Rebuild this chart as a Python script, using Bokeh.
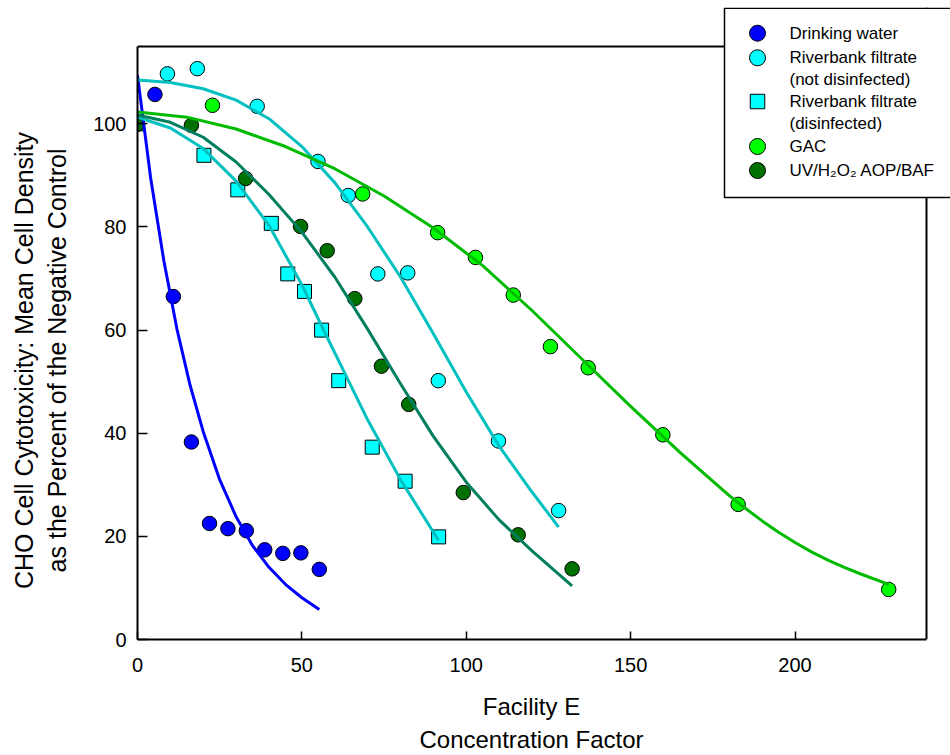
import math
from bokeh.plotting import figure
from bokeh.models import Range1d, FixedTicker, Span, BoxAnnotation, Label, Title
from bokeh.embed import file_html
from bokeh.resources import INLINE

# ---------------- data ----------------
x_ticks = [0, 50, 100, 150, 200]
y_ticks = [0, 20, 40, 60, 80, 100]

dw_x = [0, 5.3, 10.9, 16.4, 21.9, 27.5, 33.1, 38.7, 44.2, 49.7, 55.3]
dw_y = [100, 105.7, 66.5, 38.3, 22.5, 21.5, 21.1, 17.4, 16.7, 16.8, 13.6]
dw_fit_x = [0, 4, 8, 12, 16, 20, 25, 30, 35, 40, 45, 50, 55.3]
dw_fit_y = [109.4, 89.5, 73.5, 60.2, 49.3, 40.3, 31.0, 23.8, 18.2, 14.0, 10.7, 8.1, 5.8]

rbn_x = [0, 9.1, 18.2, 36.4, 54.9, 64.1, 73.1, 82.2, 91.5, 109.8, 128.1]
rbn_y = [100, 109.7, 110.7, 103.4, 92.7, 86.1, 70.9, 71.1, 50.2, 38.5, 25.0]
rbn_fit_x = [0, 10, 20, 30, 40, 50, 60, 70, 80, 90, 100, 110, 120, 128.1]
rbn_fit_y = [108.5, 108.0, 106.8, 104.6, 101.0, 95.6, 88.6, 80.0, 70.3, 59.3, 48.0, 37.5, 28.6, 21.8]

rbd_x = [0, 20.2, 30.5, 40.7, 45.7, 50.8, 56.0, 61.2, 71.4, 81.4, 91.6]
rbd_y = [100, 93.9, 87.2, 80.7, 70.9, 67.5, 60.0, 50.2, 37.3, 30.7, 19.9]
rbd_fit_x = [0, 10, 20, 30, 40, 50, 56, 62, 70, 80, 91.6]
rbd_fit_y = [101.3, 99.2, 95.2, 88.9, 80.3, 68.8, 60.8, 53.0, 42.6, 31.0, 19.2]

gac_x = [0, 22.8, 68.5, 91.3, 102.8, 114.3, 125.6, 137.1, 159.8, 182.7, 228.5]
gac_y = [100, 103.6, 86.4, 78.9, 74.1, 66.8, 56.8, 52.7, 39.7, 26.2, 9.7]
gac_fit_x = [0, 15, 30, 45, 60, 75, 90, 105, 120, 135, 150, 165, 180, 185, 190, 195,
             200, 205, 210, 215, 220, 228.5]
gac_fit_y = [102.3, 101.3, 99.0, 95.6, 91.3, 86.0, 79.8, 72.5, 63.8, 54.5, 45.2, 36.3,
             27.9, 25.4, 23.0, 20.8, 18.8, 17.0, 15.4, 14.0, 12.7, 10.7]

uv_x = [0, 16.4, 32.9, 49.6, 57.7, 66.1, 74.2, 82.5, 99.1, 115.8, 132.2]
uv_y = [100, 99.7, 89.4, 80.1, 75.4, 66.1, 53.0, 45.6, 28.5, 20.3, 13.7]
uv_fit_x = [0, 10, 20, 30, 40, 50, 60, 70, 80, 90, 100, 110, 120, 132.2]
uv_fit_y = [101.7, 100.3, 97.4, 92.6, 86.3, 79.0, 70.3, 60.2, 49.6, 39.4, 30.5, 23.2, 17.2, 10.4]

series_names = ["Drinking water", "Riverbank filtrate", "(not disinfected)",
                "Riverbank filtrate", "(disinfected)", "GAC", "UV/H\u2082O\u2082 AOP/BAF"]

x_label_lines = ["Facility E", "Concentration Factor"]
y_label_lines = ["CHO Cell Cytotoxicity: Mean Cell Density", "as the Percent of the Negative Control"]

# ---------------- layout (canvas pixels) ----------------
FONT = "Liberation Sans"
CANVAS_W, CANVAS_H = 950, 755
FRAME_L, FRAME_T, FRAME_R, FRAME_B = 137, 7, 950, 639
AX_X_END, AX_Y_END = 240, 115
AX_R_PX, AX_T_PX = 926, 46
ppx = (AX_R_PX - FRAME_L) / AX_X_END
ppy = (FRAME_B - AX_T_PX) / AX_Y_END
x_end = (FRAME_R - FRAME_L) / ppx
y_end = (FRAME_B - FRAME_T) / ppy

# Arial / Liberation Sans advance widths (1/1000 em) used to centre the axis titles
AW = {" ": 278, ":": 278, "(": 333, ")": 333, "C": 722, "D": 722, "E": 667, "F": 611,
      "H": 722, "M": 833, "N": 722, "O": 778, "P": 667, "a": 556, "c": 500, "e": 556,
      "f": 278, "g": 556, "h": 556, "i": 222, "l": 222, "n": 556, "o": 556, "r": 333,
      "s": 500, "t": 278, "v": 500, "x": 500, "y": 500}

def text_w(s, fs):
    return sum(AW.get(ch, 556) for ch in s) * fs / 1000.0

def sx(px):
    return px - FRAME_L

def sy(py):
    return FRAME_B - py

p = figure(width=CANVAS_W, height=CANVAS_H, output_backend="svg", toolbar_location=None,
           x_range=Range1d(0, x_end), y_range=Range1d(0, y_end), title=None,
           min_border_left=FRAME_L, min_border_right=CANVAS_W - FRAME_R,
           min_border_top=FRAME_T, min_border_bottom=CANVAS_H - FRAME_B)
p.outline_line_color = None
p.grid.visible = False
p.background_fill_color = "white"
p.border_fill_color = "white"

for ax, ticks, tin, so in ((p.xaxis, x_ticks, 8, 18), (p.yaxis, y_ticks, 10, 11)):
    ax.ticker = FixedTicker(ticks=ticks, minor_ticks=[])
    ax.major_tick_in = tin
    ax.major_tick_out = 0
    ax.minor_tick_in = 0
    ax.minor_tick_out = 0
    ax.axis_line_width = 2
    ax.axis_line_color = "black"
    ax.major_tick_line_width = 1.5
    ax.major_tick_line_color = "black"
    ax.major_label_text_font = FONT
    ax.major_label_text_font_size = "20px"
    ax.major_label_text_color = "black"
    ax.major_label_standoff = so
p.xaxis.bounds = (0, AX_X_END)
p.yaxis.bounds = (0, AX_Y_END)

# top and right lines of the axes box
p.add_layout(Span(location=AX_Y_END, dimension="width", line_color="black", line_width=2))
p.add_layout(Span(location=AX_X_END, dimension="height", line_color="black", line_width=2))

# ---------------- axis titles ----------------
XFS, YFS = 24, 25
x_centre, y_centre = 531, 360
t_xa = Title(text=x_label_lines[0], align="left", vertical_align="top",
             offset=x_centre - text_w(x_label_lines[0], XFS) / 2 - FRAME_L, standoff=36,
             text_font=FONT, text_font_size=f"{XFS}px", text_font_style="normal", text_color="black")
t_xb = Title(text=x_label_lines[1], align="left", vertical_align="top",
             offset=x_centre - text_w(x_label_lines[1], XFS) / 2 - FRAME_L, standoff=-28,
             text_font=FONT, text_font_size=f"{XFS}px", text_font_style="normal", text_color="black")
p.add_layout(t_xa, "below")
p.add_layout(t_xb, "below")

t_y2 = Title(text=y_label_lines[1], align="left", vertical_align="top",
             offset=FRAME_B - (y_centre + text_w(y_label_lines[1], YFS) / 2), standoff=33.6,
             text_font=FONT, text_font_size=f"{YFS}px", text_font_style="normal", text_color="black")
t_y1 = Title(text=y_label_lines[0], align="left", vertical_align="bottom",
             offset=FRAME_B - (y_centre + text_w(y_label_lines[0], YFS) / 2), standoff=-22.6,
             text_font=FONT, text_font_size=f"{YFS}px", text_font_style="normal", text_color="black")
p.add_layout(t_y2, "left")
p.add_layout(t_y1, "left")

# ---------------- data marks ----------------
ol = dict(line_color="black", line_width=1)
p.scatter(dw_x, dw_y, marker="circle", size=14.5, fill_color="#0000FF", **ol)
p.scatter(rbn_x, rbn_y, marker="circle", size=14.5, fill_color="#00FFFF", **ol)
p.scatter(rbd_x, rbd_y, marker="square", size=14, fill_color="#00FFFF", **ol)
p.scatter(gac_x, gac_y, marker="circle", size=14.5, fill_color="#00FF00", **ol)
p.scatter(uv_x, uv_y, marker="circle", size=14.5, fill_color="#007000", **ol)

lk = dict(line_width=3, line_join="round", line_cap="butt")
p.line(dw_fit_x, dw_fit_y, line_color="#0000FF", **lk)
p.line(rbn_fit_x, rbn_fit_y, line_color="#00C0C0", **lk)
p.line(rbd_fit_x, rbd_fit_y, line_color="#00C0C0", **lk)
p.line(gac_fit_x, gac_fit_y, line_color="#00BB00", **lk)
p.line(uv_fit_x, uv_fit_y, line_color="#007F5F", **lk)

# ---------------- legend ----------------
p.add_layout(BoxAnnotation(left=sx(724), right=sx(953), top=sy(7.75), bottom=sy(197),
                           left_units="screen", right_units="screen", top_units="screen",
                           bottom_units="screen", fill_color="white", fill_alpha=1.0,
                           line_color="black", line_width=1.5, line_alpha=1.0))
row_py = [32.7, 57.3, 79.3, 101.0, 123.3, 146.0, 170.0]
for txt, py in zip(series_names, row_py):
    p.add_layout(Label(x=sx(789), y=sy(py), x_units="screen", y_units="screen", text=txt,
                       text_font=FONT, text_font_size="17px", text_align="left",
                       text_baseline="middle", text_color="black", level="overlay"))
leg_x = (757 - FRAME_L) / ppx
leg_marks = [(row_py[0], "circle", "#0000FF"), (row_py[1], "circle", "#00FFFF"),
             (row_py[3], "square", "#00FFFF"), (row_py[5], "circle", "#00FF00"),
             (row_py[6], "circle", "#007000")]
for py, mk, col in leg_marks:
    r = p.scatter([leg_x], [(FRAME_B - py) / ppy], marker=mk,
                  size=16 if mk == "circle" else 14.5, fill_color=col, **ol)
    r.level = "overlay"

open("out.html", "w").write(file_html(p, INLINE))
